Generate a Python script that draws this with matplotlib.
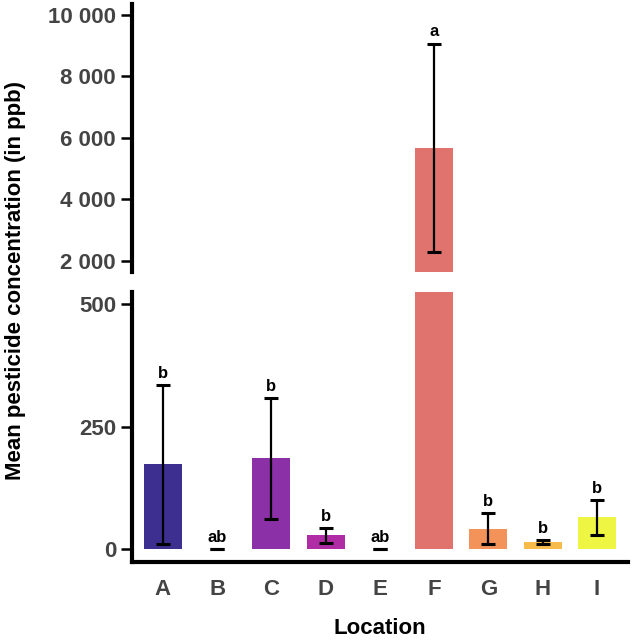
import matplotlib.pyplot as plt
import matplotlib.ticker as mtick

locations = ['A', 'B', 'C', 'D', 'E', 'F', 'G', 'H', 'I']
means = [173, 0, 185, 28, 0, 5675, 42, 15, 65]
errors = [162, 0, 124, 15, 0, 3390, 32, 4, 36]
letters = ['b', 'ab', 'b', 'b', 'ab', 'a', 'b', 'b', 'b']
colors = ['#3c2f8f', '#6a1fa0', '#8b30a6', '#b02ca4', '#c93d8f',
          '#e0736e', '#f3935a', '#f7bb4b', '#eef542']

top_ticks = [2000, 4000, 6000, 8000, 10000]
bottom_ticks = [0, 250, 500]

plt.rcParams['font.family'] = ['Liberation Sans', 'DejaVu Sans']
plt.rcParams['font.weight'] = 'bold'

fig = plt.figure(figsize=(6.33, 6.4), dpi=100)
top = fig.add_axes([0.2085, 0.575, 0.7835, 0.419])
bottom = fig.add_axes([0.2085, 0.122, 0.7835, 0.422])

x = list(range(len(locations)))
tick_grey = '#444444'

for ax in (top, bottom):
    ax.bar(x, means, width=0.7, color=colors, edgecolor='none')
    ax.errorbar(x, means, yerr=errors, fmt='none', ecolor='black',
                elinewidth=1.6, capsize=5, capthick=2.2)
    ax.set_xlim(-0.57, 8.57)
    for s in ('top', 'right'):
        ax.spines[s].set_visible(False)
    ax.spines['left'].set_linewidth(3)
    ax.tick_params(axis='y', length=8, width=1.8, pad=3.5,
                   labelsize=16, labelcolor=tick_grey)
    ax.yaxis.set_major_formatter(
        mtick.FuncFormatter(lambda v, p: '{:,.0f}'.format(v).replace(',', ' ')))

top.set_ylim(1640, 10360)
top.set_yticks(top_ticks)
top.spines['bottom'].set_visible(False)
top.set_xticks([])

bottom.set_ylim(-26, 525)
bottom.set_yticks(bottom_ticks)
bottom.spines['bottom'].set_linewidth(3)
bottom.set_xticks(x)
bottom.set_xticklabels(locations)
bottom.tick_params(axis='x', length=0, pad=12, labelsize=16,
                   labelcolor=tick_grey)
bottom.set_xlabel('Location', fontsize=16, fontweight='bold', labelpad=13)

for i, (m, e, lab) in enumerate(zip(means, errors, letters)):
    ax = top if m + e > 1000 else bottom
    ax.annotate(lab, (i, m + e), xytext=(0, 3), textcoords='offset points',
                ha='center', va='bottom', fontsize=12, fontweight='bold')

fig.text(0.024, 0.5625, 'Mean pesticide concentration (in ppb)',
         rotation=90, ha='center', va='center', fontsize=16,
         fontweight='bold')

plt.savefig('out.png', dpi=100)
